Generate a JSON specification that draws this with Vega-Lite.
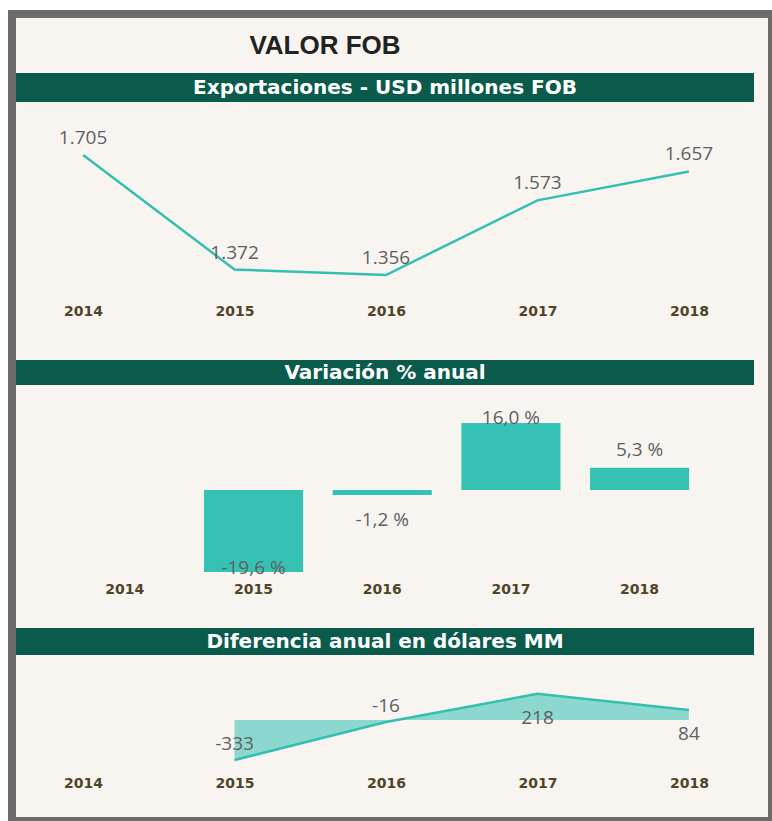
{
  "$schema": "https://vega.github.io/schema/vega-lite/v6.json",
  "background": "#f8f5f1",
  "padding": 0,
  "spacing": 0,
  "config": {
    "view": {"stroke": null},
    "concat": {"spacing": 0},
    "locale": {"number": {"decimal": ",", "thousands": ".", "grouping": [3], "currency": ["$", ""], "minus": "-"}},
    "axisX": {
      "domain": false, "ticks": false, "tickSize": 0, "grid": false, "labelPadding": 0,
      "labelFont": "DejaVu Sans", "labelFontWeight": "bold", "labelFontSize": 14,
      "labelColor": "#4f4427", "title": null, "labelAngle": 0
    }
  },
  "datasets": {
    "exp": [
      {"year": "2014", "fob": 1705},
      {"year": "2015", "fob": 1372},
      {"year": "2016", "fob": 1356},
      {"year": "2017", "fob": 1573},
      {"year": "2018", "fob": 1657}
    ],
    "var": [
      {"year": "2015", "pct": -19.6},
      {"year": "2016", "pct": -1.2},
      {"year": "2017", "pct": 16.0},
      {"year": "2018", "pct": 5.3}
    ],
    "dif": [
      {"year": "2015", "usd": -333},
      {"year": "2016", "usd": -16},
      {"year": "2017", "usd": 218},
      {"year": "2018", "usd": 84}
    ],
    "blank": []
  },
  "hconcat": [
    {"width": 8, "height": 821, "view": {"fill": "#ffffff", "stroke": null}, "data": {"name": "blank"}, "mark": {"type": "point", "size": 0, "opacity": 0}},
    {
      "spacing": 0,
      "vconcat": [
        {"width": 764, "height": 10, "view": {"fill": "#ffffff", "stroke": null}, "data": {"name": "blank"}, "mark": {"type": "point", "size": 0, "opacity": 0}},
        {"width": 764, "height": 8, "view": {"fill": "#6e6a69", "stroke": null}, "data": {"name": "blank"}, "mark": {"type": "point", "size": 0, "opacity": 0}},
        {
          "spacing": 0,
          "hconcat": [
            {"width": 8, "height": 799, "view": {"fill": "#6e6a69", "stroke": null}, "data": {"name": "blank"}, "mark": {"type": "point", "size": 0, "opacity": 0}},
            {
              "spacing": 0,
              "bounds": "flush",
              "vconcat": [
                {
                  "width": 752, "height": 55,
                  "data": {"values": [{"t": "VALOR FOB"}]},
                  "mark": {"type": "text", "font": "Liberation Sans", "fontWeight": "bold", "fontSize": 26, "color": "#222222", "baseline": "middle", "dx": -67},
                  "encoding": {"text": {"field": "t"}}
                },
                {
                  "width": 738, "height": 29,
                  "view": {"fill": "#0a5b4b", "stroke": null},
                  "data": {"values": [{"t": "Exportaciones - USD millones FOB"}]},
                  "mark": {"type": "text", "font": "DejaVu Sans", "fontWeight": "bold", "fontSize": 20, "color": "#ffffff", "baseline": "middle"},
                  "encoding": {"text": {"field": "t"}}
                },
                {
                  "width": 740, "height": 258,
                  "data": {"name": "exp"},
                  "encoding": {
                    "x": {"field": "year", "type": "ordinal", "scale": {"type": "point", "domain": ["2014", "2015", "2016", "2017", "2018"], "padding": 0.443}, "axis": {"offset": -56}},
                    "y": {"field": "fob", "type": "quantitative", "scale": {"domain": [1109, 1859]}, "axis": null}
                  },
                  "layer": [
                    {"mark": {"type": "line", "color": "#34bfb1", "strokeWidth": 2.5}},
                    {"mark": {"type": "text", "font": "Open Sans", "fontSize": 19, "color": "#5f5f5f", "baseline": "middle", "dy": -17},
                     "encoding": {"text": {"field": "fob", "type": "quantitative", "format": ",.0f"}}}
                  ]
                },
                {
                  "width": 738, "height": 25,
                  "view": {"fill": "#0a5b4b", "stroke": null},
                  "data": {"values": [{"t": "Variación % anual"}]},
                  "mark": {"type": "text", "font": "DejaVu Sans", "fontWeight": "bold", "fontSize": 20, "color": "#ffffff", "baseline": "middle"},
                  "encoding": {"text": {"field": "t"}}
                },
                {
                  "width": 740, "height": 243,
                  "data": {"name": "var"},
                  "encoding": {
                    "x": {"field": "year", "type": "ordinal", "scale": {"domain": ["2014", "2015", "2016", "2017", "2018"], "paddingInner": 0.23, "paddingOuter": 0.49, "align": 0.47}, "axis": {"offset": -46}},
                    "y": {"field": "pct", "type": "quantitative", "scale": {"domain": [-33, 25.1]}, "axis": null}
                  },
                  "layer": [
                    {"mark": {"type": "bar", "color": "#35c2b5"}},
                    {"mark": {"type": "text", "font": "Open Sans", "fontSize": 19, "color": "#5f5f5f", "baseline": "middle",
                              "dy": {"expr": "abs(datum.pct) > 10 ? (datum.pct > 0 ? -5 : -4) : (datum.pct > 0 ? -18 : 25)"},
                              "text": {"expr": "format(datum.pct, '.1f') + ' %'"}}}
                  ]
                },
                {
                  "width": 738, "height": 27,
                  "view": {"fill": "#0a5b4b", "stroke": null},
                  "data": {"values": [{"t": "Diferencia anual en dólares MM"}]},
                  "mark": {"type": "text", "font": "DejaVu Sans", "fontWeight": "bold", "fontSize": 20, "color": "#ffffff", "baseline": "middle"},
                  "encoding": {"text": {"field": "t"}}
                },
                {
                  "width": 740, "height": 162,
                  "data": {"name": "dif"},
                  "encoding": {
                    "x": {"field": "year", "type": "ordinal", "scale": {"type": "point", "domain": ["2014", "2015", "2016", "2017", "2018"], "padding": 0.443}, "axis": {"offset": -41}},
                    "y": {"field": "usd", "type": "quantitative", "scale": {"domain": [-808, 542]}, "axis": null}
                  },
                  "layer": [
                    {"mark": {"type": "area", "fill": "#34bfb1", "fillOpacity": 0.55, "line": {"color": "#34bfb1", "strokeWidth": 2.5}}},
                    {"mark": {"type": "text", "font": "Open Sans", "fontSize": 19, "color": "#5f5f5f", "baseline": "middle",
                              "dy": {"expr": "datum.usd > 0 ? 24 : -16"}},
                     "encoding": {"text": {"field": "usd", "type": "quantitative", "format": ",.0f"}}}
                  ]
                }
              ]
            },
            {"width": 4, "height": 799, "view": {"fill": "#6e6a69", "stroke": null}, "data": {"name": "blank"}, "mark": {"type": "point", "size": 0, "opacity": 0}}
          ]
        },
        {"width": 764, "height": 4, "view": {"fill": "#6e6a69", "stroke": null}, "data": {"name": "blank"}, "mark": {"type": "point", "size": 0, "opacity": 0}}
      ]
    }
  ]
}
